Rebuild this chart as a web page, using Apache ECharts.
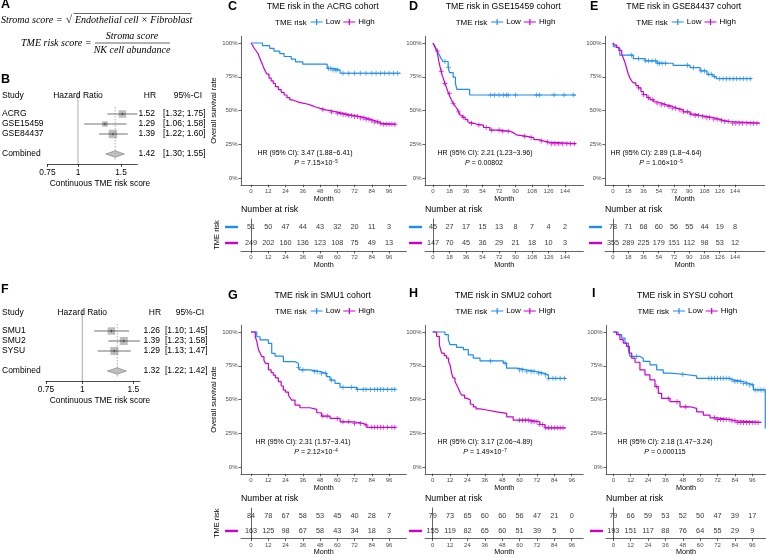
<!DOCTYPE html>
<html><head><meta charset="utf-8">
<script src="https://cdn.jsdelivr.net/npm/echarts@6/dist/echarts.min.js"></script>
<style>html,body{margin:0;padding:0;background:#fff}#c{width:766px;height:557px}</style>
</head><body><div id="c"></div>
<script>
// ================= DATA =================
const months96 = [0,12,24,36,48,60,72,84,96];
const months144 = [0,18,36,54,72,90,108,126,144];
const yTicks = [0,0.25,0.5,0.75,1];

// ACRG
const acrgLow = [[0,1],[8,0.98],[13,0.96],[16,0.94],[20,0.922],[23,0.90],[28,0.88],[31,0.86],[36,0.843],[53,0.812],[57,0.80],[62,0.776],[104,0.776]];
const acrgHigh = [[0,1],[1,0.985],[2,0.965],[3,0.95],[4,0.935],[5,0.92],[6,0.89],[7,0.865],[8,0.84],[9,0.812],[10,0.79],[11,0.77],[12.5,0.74],[14,0.72],[15.5,0.70],[17,0.677],[19,0.655],[21,0.635],[23,0.615],[25,0.595],[27,0.578],[29,0.57],[31,0.562],[33,0.555],[36,0.548],[39,0.538],[42,0.526],[45,0.516],[48,0.505],[52,0.497],[56,0.488],[60,0.479],[64,0.47],[68,0.463],[72,0.455],[76,0.445],[80,0.435],[83,0.425],[86,0.415],[89,0.405],[91,0.398],[101,0.398]];
const acrgLowCens = [54,55.5,57,59,60,64,68,72,76,80,84,87,90,93,96,99,102];
const acrgHighCens = [50,56,60,62,64,66,68,70,72,74,76,78,80,82,84,86,88,90,92,94,96,98,100];
const acrgRiskLow = [51,50,47,44,43,32,20,11,3];
const acrgRiskHigh = [249,202,160,136,123,108,75,49,13];

// GSE15459
const g15Low = [[0,1],[2,0.978],[3.5,0.956],[5,0.935],[7,0.91],[9,0.884],[11,0.863],[16.5,0.82],[18,0.78],[22,0.747],[24.5,0.70],[26,0.657],[40,0.615],[156,0.615]];
const g15High = [[0,1],[1,0.985],[2,0.97],[3,0.955],[4.4,0.94],[5.5,0.90],[6.5,0.86],[7.6,0.826],[9,0.79],[10,0.76],[11.3,0.738],[13,0.70],[15,0.664],[17,0.625],[18.5,0.602],[20,0.58],[22,0.553],[24,0.535],[26,0.515],[28,0.49],[29.5,0.465],[32,0.45],[35,0.433],[38,0.415],[40,0.405],[45,0.398],[48,0.392],[55,0.374],[62,0.355],[73,0.346],[84,0.334],[88,0.32],[91,0.309],[102,0.299],[110,0.284],[115,0.275],[120,0.266],[126,0.254],[156,0.254]];
const g15LowCens = [13,17,63,67,72,77,80,82,90,113,116,132,143,153];
const g15HighCens = [5,9,13,18,22,28,33,42,50,58,64,72,76,82,100,107,118,125,129,133,137,141,146,150,154];
const g15RiskLow = [45,27,17,15,13,8,7,4,2];
const g15RiskHigh = [147,70,45,36,29,21,18,10,3];

// GSE84437
const g84Low = [[0,1],[0.5,0.974],[2,0.962],[8,0.91],[24,0.885],[38,0.868],[52,0.85],[71,0.835],[91,0.818],[103,0.793],[111,0.768],[118,0.751],[122,0.736],[164,0.736]];
const g84High = [[0,1],[2,0.985],[4.4,0.968],[7,0.945],[10.3,0.918],[12,0.89],[14.2,0.856],[16,0.815],[18.1,0.768],[20,0.74],[22,0.72],[24,0.705],[27,0.685],[30,0.668],[33,0.64],[35.8,0.618],[40,0.595],[43.7,0.58],[48,0.565],[51.6,0.555],[57,0.542],[63.4,0.53],[70,0.518],[75.2,0.505],[83,0.49],[91,0.473],[97,0.463],[103,0.456],[110,0.447],[118.5,0.436],[125,0.427],[130.3,0.418],[138,0.406],[173.5,0.406]];
const g84LowCens = [22,30,38,42,46,50,53,55,58,62,88,95,104,108,113,116,120,126,130,134,138,142,146,150,154,158,162];
const g84HighCens = [30,36,42,47,52,57,61,66,70,74,79,83,88,92,97,101,106,110,114,119,123,128,132,136,141,145,149,153,158,162,166,170];
const g84RiskLow = [78,71,68,60,56,55,44,19,8];
const g84RiskHigh = [355,289,225,179,151,112,98,53,12];

// SMU1
const smu1Low = [[0,1],[4,0.965],[6.3,0.941],[12.1,0.916],[14.4,0.842],[16.7,0.822],[22.5,0.78],[30.6,0.768],[33,0.738],[34,0.719],[41,0.706],[48,0.694],[52.6,0.669],[55,0.644],[58.4,0.619],[61.9,0.59],[73.5,0.575],[101,0.575]];
const smu1High = [[0,1],[3,0.965],[4,0.93],[5.3,0.866],[6.5,0.84],[7.6,0.817],[9,0.79],[10,0.768],[12.1,0.719],[14,0.70],[15.5,0.681],[17,0.66],[19,0.632],[21,0.60],[22.5,0.57],[24,0.555],[26,0.533],[27,0.515],[28.3,0.496],[30.6,0.459],[34,0.439],[41,0.427],[45.7,0.402],[49,0.377],[55,0.36],[62,0.335],[71,0.323],[78,0.311],[80.5,0.294],[101,0.294]];
const smu1LowCens = [33,36,44,46,49,52,56,64,70,74,78,80,83,86,88,90,92,95,98,100];
const smu1HighCens = [50,53,60,64,68,72,76,80,84,86,88,90,92,95,98,100];
const smu1RiskLow = [84,78,67,58,53,45,40,28,7];
const smu1RiskHigh = [163,125,98,67,58,43,34,18,3];

// SMU2
const smu2Low = [[0,1],[8.5,0.98],[10.8,0.943],[12,0.906],[16.5,0.886],[21.2,0.869],[24.6,0.831],[28,0.806],[32.7,0.786],[48.8,0.769],[51,0.732],[58,0.719],[64.9,0.707],[71.8,0.695],[76.4,0.682],[79.9,0.657],[92,0.657]];
const smu2High = [[0,1],[2.7,0.968],[4.6,0.906],[5.5,0.87],[6.2,0.844],[8,0.825],[9.6,0.806],[11,0.78],[12,0.757],[13.1,0.695],[14,0.66],[15.4,0.633],[16.5,0.61],[17.7,0.583],[19,0.55],[20,0.533],[22,0.51],[23.5,0.496],[26,0.465],[28.1,0.446],[30,0.43],[32.7,0.422],[37.3,0.409],[44.2,0.397],[51.1,0.372],[55.6,0.347],[67.2,0.335],[74,0.315],[77.5,0.29],[92,0.29]];
const smu2LowCens = [40,50,60,62,65,68,70,73,75,78,80,83,85,88,91];
const smu2HighCens = [60,62,64,66,68,70,72,74,76,78,80,82,84,86,88,90];
const smu2RiskLow = [79,73,65,60,60,56,47,21,0];
const smu2RiskHigh = [155,119,82,65,60,51,39,5,0];

// SYSU
const sysuLow = [[0,1],[3.4,0.98],[5.8,0.955],[8.1,0.918],[10.4,0.868],[11.5,0.819],[18.4,0.806],[20.7,0.782],[25.3,0.757],[30,0.719],[34.5,0.695],[39.2,0.687],[48.4,0.675],[57.6,0.657],[80.6,0.645],[82.9,0.633],[89.8,0.62],[93.3,0.608],[96.8,0.571],[105,0.286]];
const sysuHigh = [[0,1],[2.3,0.98],[4.6,0.943],[6.9,0.918],[9.2,0.893],[11.1,0.844],[12.7,0.806],[15,0.776],[18.4,0.719],[21.9,0.682],[25.3,0.645],[28.8,0.595],[31.1,0.546],[33.4,0.508],[39.2,0.484],[46.1,0.446],[53,0.434],[57.6,0.409],[62.2,0.384],[66.8,0.364],[71.4,0.352],[80.6,0.342],[85.2,0.33],[102.4,0.33]];
const sysuLowCens = [16,48,66,68,70,72,74,76,78,80,82,84,86,88,90,92,94,96,98,100,102,104];
const sysuHighCens = [30,38,44,50,70,72,74,76,78,80,82,84,86,88,90,92,94,96,98,100];
const sysuRiskLow = [79,66,59,53,52,50,47,39,17];
const sysuRiskHigh = [193,151,117,88,76,64,55,29,9];

// Forest plots
const forestTicks = [0.75, 1, 1.5];
const forestTickLabels = ['0.75', '1', '1.5'];
const bStudies = ['ACRG','GSE15459','GSE84437'];
const bHR = [1.52, 1.29, 1.39];
const bLo = [1.32, 1.06, 1.22];
const bHi = [1.75, 1.58, 1.60];
const bBox = [7.5, 5.5, 8.5];
const bComb = [1.42, 1.30, 1.55];
const bHRtxt = ['1.52','1.29','1.39','1.42'];
const bCItxt = ['[1.32; 1.75]','[1.06; 1.58]','[1.22; 1.60]','[1.30; 1.55]'];
const fStudies = ['SMU1','SMU2','SYSU'];
const fHR = [1.26, 1.39, 1.29];
const fLo = [1.10, 1.23, 1.13];
const fHi = [1.45, 1.58, 1.47];
const fBox = [7.5, 8, 8];
const fComb = [1.32, 1.22, 1.42];
const fHRtxt = ['1.26','1.39','1.29','1.32'];
const fCItxt = ['[1.10; 1.45]','[1.23; 1.58]','[1.13; 1.47]','[1.22; 1.42]'];

// ================= STYLE / LAYOUT =================
const FONT = 'Liberation Sans';
const BLUE = '#1E8CF0';
const MAG = '#CC00CC';
const AX = '#222';
const TICKC = '#4d4d4d';
const PLUS = 'path://M-0.17,-1 L0.17,-1 L0.17,-0.17 L1,-0.17 L1,0.17 L0.17,0.17 L0.17,1 L-0.17,1 L-0.17,0.17 L-1,0.17 L-1,-0.17 L-0.17,-0.17 Z';
const LEGICON = 'path://M0,3 L12,3 L12,4 L0,4 Z M5.4,0.5 L6.6,0.5 L6.6,6.5 L5.4,6.5 Z';

const panels = [
  {title:'TME risk in the ACRG cohort', low:acrgLow, high:acrgHigh, lowC:acrgLowCens, highC:acrgHighCens, ticks:months96, rl:acrgRiskLow, rh:acrgRiskHigh,
   hr:'HR (95% CI): 3.47 (1.88\u22126.41)', p:['7.15\u00d710','\u22125'], L:{left:241,width:165.3,xmin:-6.96,xmax:108,base:0,hrX:305,pX:316}, ylab:true},
  {title:'TME risk in GSE15459 cohort', low:g15Low, high:g15High, lowC:g15LowCens, highC:g15HighCens, ticks:months144, rl:g15RiskLow, rh:g15RiskHigh,
   hr:'HR (95% CI): 2.21 (1.23\u22123.96)', p:['0.00802',''], L:{left:425,width:158.4,xmin:-8.72,xmax:164,base:0,hrX:485,pX:484}, ylab:false},
  {title:'TME risk in GSE84437 cohort', low:g84Low, high:g84High, lowC:g84LowCens, highC:g84HighCens, ticks:months144, rl:g84RiskLow, rh:g84RiskHigh,
   hr:'HR (95% CI): 2.89 (1.8\u22124.64)', p:['1.06\u00d710','\u22125'], L:{left:605,width:159.6,xmin:-9.44,xmax:179,base:0,hrX:656,pX:661}, ylab:false},
  {title:'TME risk in SMU1 cohort', low:smu1Low, high:smu1High, lowC:smu1LowCens, highC:smu1HighCens, ticks:months96, rl:smu1RiskLow, rh:smu1RiskHigh,
   hr:'HR (95% CI): 2.31 (1.57\u22123.41)', p:['2.12\u00d710','\u22124'], L:{left:241,width:165.3,xmin:-6.96,xmax:108,base:289,hrX:303,pX:316}, ylab:true},
  {title:'TME risk in SMU2 cohort', low:smu2Low, high:smu2High, lowC:smu2LowCens, highC:smu2HighCens, ticks:months96, rl:smu2RiskLow, rh:smu2RiskHigh,
   hr:'HR (95% CI): 3.17 (2.06\u22124.89)', p:['1.49\u00d710','\u22127'], L:{left:425,width:158.3,xmin:-5.3,xmax:104,base:289,hrX:485,pX:485}, ylab:false},
  {title:'TME risk in SYSU cohort', low:sysuLow, high:sysuHigh, lowC:sysuLowCens, highC:sysuHighCens, ticks:months96, rl:sysuRiskLow, rh:sysuRiskHigh,
   hr:'HR (95% CI): 2.18 (1.47\u22123.24)', p:['0.000115',''], L:{left:606,width:160,xmin:-5.04,xmax:105.5,base:289,hrX:665,pX:665}, ylab:false}
];

function survAt(curve, t) {
  let s = curve[0][1];
  for (const [ti, si] of curve) { if (ti <= t) s = si; else break; }
  return s;
}

const grid = [], xAxis = [], yAxis = [], series = [], legend = [], graphic = [];
function txt(x, y, text, o) {
  graphic.push({type:'text', x:x, y:y, silent:true, z:50,
    style:Object.assign({text:text, fontFamily:FONT, fontSize:8, fill:'#000', align:'left', verticalAlign:'middle'}, o||{})});
}

const axisLineS = {show:true, onZero:false, lineStyle:{color:AX, width:0.7}};
const nK = panels.length;

panels.forEach((p, k) => {
  const L = p.L, b = L.base;
  const cx = L.left + L.width / 2;
  grid.push({left:L.left, top:36.25 + b, width:L.width, height:148.5});
  xAxis.push({gridIndex:k, type:'value', min:L.xmin, max:L.xmax,
    axisLine:axisLineS, splitLine:{show:false},
    axisTick:{show:true, length:2.5, customValues:p.ticks, lineStyle:{color:AX, width:0.7}},
    axisLabel:{customValues:p.ticks, fontSize:6, color:TICKC, margin:3.5, fontFamily:FONT},
    name:'Month', nameLocation:'middle', nameGap:9.5, nameTextStyle:{fontSize:7.2, color:'#000', fontFamily:FONT}});
  yAxis.push({gridIndex:k, type:'value', min:-0.05, max:1.05,
    axisLine:axisLineS, splitLine:{show:false},
    axisTick:{show:true, length:2.5, customValues:yTicks, lineStyle:{color:AX, width:0.7}},
    axisLabel:{customValues:yTicks, fontSize:6, color:TICKC, margin:3.5, fontFamily:FONT, formatter:v => Math.round(v*100) + '%'},
    name:p.ylab ? 'Overall survival rate' : '', nameLocation:'middle', nameGap:19, nameRotate:90,
    nameTextStyle:{fontSize:7.5, color:'#000', fontFamily:FONT}});

  series.push({type:'line', name:'Low', xAxisIndex:k, yAxisIndex:k, data:p.low, step:'end', symbol:'none', showSymbol:false,
    lineStyle:{color:BLUE, width:1.2}, itemStyle:{color:BLUE}, silent:true, z:3});
  series.push({type:'line', name:'High', xAxisIndex:k, yAxisIndex:k, data:p.high, step:'end', symbol:'none', showSymbol:false,
    lineStyle:{color:MAG, width:1.2}, itemStyle:{color:MAG}, silent:true, z:3});
  series.push({type:'scatter', name:'Low censored', xAxisIndex:k, yAxisIndex:k, data:p.lowC.map(t => [t, survAt(p.low, t)]),
    symbol:PLUS, symbolSize:5, itemStyle:{color:BLUE}, silent:true, z:4});
  series.push({type:'scatter', name:'High censored', xAxisIndex:k, yAxisIndex:k, data:p.highC.map(t => [t, survAt(p.high, t)]),
    symbol:PLUS, symbolSize:5, itemStyle:{color:MAG}, silent:true, z:4});

  legend.push({left:cx - 13, top:23 + b - 5, itemWidth:12, itemHeight:7, itemGap:3, padding:0, selectedMode:false,
    textStyle:{fontSize:8, color:'#000', fontFamily:FONT, padding:[0,0,0,-2]},
    data:[{name:'Low', icon:LEGICON, itemStyle:{color:BLUE}}, {name:'High', icon:LEGICON, itemStyle:{color:MAG}}]});
  txt(cx - 17, 23 + b, 'TME risk', {align:'right', fontSize:8});
  txt(cx - 1, 7 + b, p.title, {align:'center', fontSize:8.7});
  txt(L.hrX, 153 + b, p.hr, {align:'center', fontSize:7});
  const pr = p.p[1] ? '{i|P} = ' + p.p[0] + '{s|' + p.p[1] + '}' : '{i|P} = ' + p.p[0];
  txt(L.pX, 163 + b, pr, {align:'center', fontSize:7,
    rich:{i:{fontStyle:'italic', fontSize:7, fontFamily:FONT}, s:{fontSize:4.5, fontFamily:FONT, verticalAlign:'top', padding:[0,0,3,0]}}});
  txt(L.left, 210 + b, 'Number at risk', {fontSize:8.8});
});

panels.forEach((p, k) => {
  const L = p.L, b = L.base;
  grid.push({left:L.left, top:219 + b, width:L.width, height:32});
  xAxis.push({gridIndex:nK + k, type:'value', min:L.xmin, max:L.xmax,
    axisLine:axisLineS, splitLine:{show:false},
    axisTick:{show:true, length:2.5, customValues:p.ticks, lineStyle:{color:AX, width:0.7}},
    axisLabel:{customValues:p.ticks, fontSize:6, color:TICKC, margin:3.5, fontFamily:FONT},
    name:'Month', nameLocation:'middle', nameGap:9.5, nameTextStyle:{fontSize:7.2, color:'#000', fontFamily:FONT}});
  yAxis.push({gridIndex:nK + k, type:'category', data:['High','Low'],
    axisLine:{show:true, lineStyle:{color:AX, width:0.7}}, axisTick:{show:false}, splitLine:{show:false},
    axisLabel:{margin:3, formatter:v => '{' + v + '| }',
      rich:{Low:{width:13, height:2.4, lineHeight:2.4, fontSize:2, backgroundColor:BLUE},
            High:{width:13, height:2.4, lineHeight:2.4, fontSize:2, backgroundColor:MAG}}},
    name:p.ylab ? 'TME risk' : '', nameLocation:'middle', nameGap:19, nameRotate:90,
    nameTextStyle:{fontSize:7.5, color:'#000', fontFamily:FONT}});
  const rows = p.ticks.map((t, i) => [t, 1, p.rl[i]]).concat(p.ticks.map((t, i) => [t, 0, p.rh[i]]));
  series.push({type:'scatter', xAxisIndex:nK + k, yAxisIndex:nK + k, data:rows, symbolSize:1, silent:true,
    itemStyle:{color:'rgba(0,0,0,0)'},
    label:{show:true, position:'inside', formatter:d => String(d.value[2]), fontSize:7.3, color:'#000', fontFamily:FONT}});
});

function addForest(gi, gl, gw, gt, xmaxHR, studies, hr, lo, hi, box, comb, hrTxt, ciTxt, cols) {
  grid.push({left:gl, top:gt, width:gw, height:75});
  xAxis.push({gridIndex:gi, type:'value', min:Math.log(0.75), max:Math.log(xmaxHR),
    axisLine:{show:true, onZero:false, lineStyle:{color:'#000', width:0.7}}, splitLine:{show:false},
    axisTick:{show:true, length:3, customValues:forestTicks.map(Math.log), lineStyle:{color:'#000', width:0.7}},
    axisLabel:{customValues:forestTicks.map(Math.log), fontSize:8.4, color:'#000', margin:4.5, fontFamily:FONT,
      formatter:v => { const i = forestTicks.findIndex(t => Math.abs(Math.log(t) - v) < 1e-6); return i >= 0 ? forestTickLabels[i] : ''; }}});
  yAxis.push({gridIndex:gi, type:'value', min:-1.5, max:6, inverse:true, show:false});
  const data = studies.map((s, i) => [Math.log(hr[i]), i + 1, Math.log(lo[i]), Math.log(hi[i]), box[i], 0]);
  data.push([Math.log(comb[0]), 5, Math.log(comb[1]), Math.log(comb[2]), 0, 1]);
  const names = studies.concat(['Combined']);
  series.push({type:'custom', xAxisIndex:gi, yAxisIndex:gi, clip:false, silent:true, data:data,
    renderItem:(params, api) => {
      const i = params.dataIndex;
      const x = api.value(0), row = api.value(1), l = api.value(2), h = api.value(3), s = api.value(4), kind = api.value(5);
      const pc = api.coord([x, row]), pl = api.coord([l, row]), ph = api.coord([h, row]);
      const ch = [];
      const ts = {fontFamily:FONT, fontSize:8.5, fill:'#000', verticalAlign:'middle'};
      if (kind === 0) {
        ch.push({type:'rect', shape:{x:pc[0] - s/2, y:pc[1] - s/2, width:s, height:s}, style:{fill:'#BDBDBD'}});
        ch.push({type:'line', shape:{x1:pl[0], y1:pl[1], x2:ph[0], y2:ph[1]}, style:{stroke:'#111', lineWidth:0.6}});
        ch.push({type:'line', shape:{x1:pc[0], y1:pc[1] - 1.2, x2:pc[0], y2:pc[1] + 1.2}, style:{stroke:'#111', lineWidth:0.6}});
      } else {
        const r0 = api.coord([0, -1.2]), r1 = api.coord([0, 6]);
        ch.push({type:'line', shape:{x1:r0[0], y1:r0[1], x2:r1[0], y2:r1[1]}, style:{stroke:'#888', lineWidth:0.7}});
        const d0 = api.coord([x, 0.3]), d1 = api.coord([x, 5.7]);
        ch.push({type:'line', shape:{x1:d0[0], y1:d0[1], x2:d1[0], y2:d1[1]}, style:{stroke:'#888', lineWidth:0.7, lineDash:[1.5,1.5]}});
        ch.push({type:'polygon', shape:{points:[[pl[0], pc[1]], [pc[0], pc[1] - 3.3], [ph[0], pc[1]], [pc[0], pc[1] + 3.3]]},
          style:{fill:'#BDBDBD', stroke:'#666', lineWidth:0.5}});
      }
      ch.push({type:'text', x:cols.name, y:pc[1], style:Object.assign({text:names[i], align:'left'}, ts)});
      ch.push({type:'text', x:cols.hr, y:pc[1], style:Object.assign({text:hrTxt[i], align:'right'}, ts)});
      ch.push({type:'text', x:cols.ci, y:pc[1], style:Object.assign({text:ciTxt[i], align:'left'}, ts)});
      return {type:'group', children:ch};
    }});
  const hy = gt + 7;
  txt(cols.name, hy, 'Study', {fontSize:8.5});
  txt(gl + (0 - Math.log(0.75)) / (Math.log(xmaxHR) - Math.log(0.75)) * gw, hy, 'Hazard Ratio', {fontSize:8.5, align:'center'});
  txt(cols.hr - 5, hy, 'HR', {fontSize:8.5, align:'center'});
  txt(cols.ci + 39, hy, '95%-CI', {fontSize:8.5, align:'right'});
  txt(100, gt + 95, 'Continuous TME risk score', {fontSize:8.4, align:'center'});
}
addForest(2 * nK, 47.5, 89.8, 89, 1.75, bStudies, bHR, bLo, bHi, bBox, bComb, bHRtxt, bCItxt, {name:2, hr:155, ci:163});
addForest(2 * nK + 1, 46, 93.9, 306, 1.58, fStudies, fHR, fLo, fHi, fBox, fComb, fHRtxt, fCItxt, {name:2, hr:160, ci:165});

const letters = [['A',1,5],['B',1,80],['C',228,7],['D',409,7],['E',590,7],['F',1,290],['G',228,296],['H',409,294],['I',592,294]];
letters.forEach(([t, x, y]) => txt(x, y, t, {fontSize:12.5, fontWeight:'bold'}));

const SERIF = 'Liberation Serif';
const fs = {fontFamily:SERIF, fontStyle:'italic', fontSize:10};
txt(1, 20, 'Stroma score =', fs);
txt(66, 20, '\u221a', Object.assign({}, fs, {fontStyle:'normal', fontSize:11}));
txt(75, 20, 'Endothelial cell \u00d7 Fibroblast', fs);
graphic.push({type:'line', silent:true, shape:{x1:73.5, y1:13.5, x2:191, y2:13.5}, style:{stroke:'#000', lineWidth:0.6}});
txt(21, 43, 'TME risk score =', fs);
txt(132, 36, 'Stroma score', Object.assign({}, fs, {align:'center'}));
graphic.push({type:'line', silent:true, shape:{x1:95, y1:43, x2:170, y2:43}, style:{stroke:'#000', lineWidth:0.6}});
txt(132, 50.5, 'NK cell abundance', Object.assign({}, fs, {align:'center'}));

const chart = echarts.init(document.getElementById('c'));
chart.setOption({
  animation:false,
  backgroundColor:'#fff',
  textStyle:{fontFamily:FONT},
  grid, xAxis, yAxis, series, legend, graphic
});
</script>
</body></html>
